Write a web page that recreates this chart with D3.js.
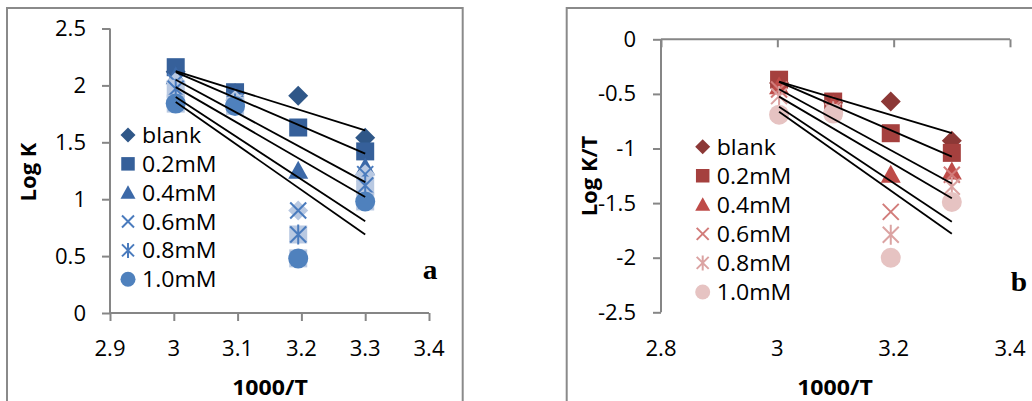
<!DOCTYPE html>
<html><head><meta charset="utf-8">
<script src="https://cdn.jsdelivr.net/npm/d3@7"></script>
<style>body{margin:0;background:#fff}svg{display:block}</style>
</head><body><div id="plot"></div>
<script>
var W = 1032, H = 401

// 1000/T  (T = 333, 323, 313, 303 K)
var xVals = [3.003, 3.096, 3.195, 3.300]
var seriesNames = ['blank', '0.2mM', '0.4mM', '0.6mM', '0.8mM', '1.0mM']

// panel a : Log K
var logK_blank = [2.12, 1.93, 1.91, 1.54]
var logK_02 = [2.16, 1.94, 1.63, 1.42]
var logK_04 = [2.08, 1.90, 1.25, 1.28]
var logK_06 = [2.03, 1.87, 0.90, 1.22]
var logK_08 = [1.97, 1.84, 0.69, 1.12]
var logK_10 = [1.84, 1.82, 0.48, 0.98]
var trendA_start = [2.125, 2.117, 2.05, 1.985, 1.897, 1.854]
var trendA_end = [1.605, 1.40, 1.15, 1.02, 0.807, 0.69]

// panel b : Log K/T
var logKT_blank = [-0.40, -0.58, -0.57, -0.93]
var logKT_02 = [-0.37, -0.57, -0.86, -1.04]
var logKT_04 = [-0.43, -0.60, -1.24, -1.21]
var logKT_06 = [-0.46, -0.63, -1.58, -1.24]
var logKT_08 = [-0.52, -0.66, -1.79, -1.35]
var logKT_10 = [-0.69, -0.68, -2.00, -1.49]
var trendB_start = [-0.388, -0.39, -0.458, -0.525, -0.617, -0.663]
var trendB_end = [-0.86, -1.075, -1.32, -1.456, -1.67, -1.78]

var ticksAx = [2.9, 3, 3.1, 3.2, 3.3, 3.4]
var ticksAy = [0, 0.5, 1, 1.5, 2, 2.5]
var ticksBx = [2.8, 3, 3.2, 3.4]
var ticksBy = [0, -0.5, -1, -1.5, -2, -2.5]

var logK = [logK_blank, logK_02, logK_04, logK_06, logK_08, logK_10]
var logKT = [logKT_blank, logKT_02, logKT_04, logKT_06, logKT_08, logKT_10]

// styles
var shapes = ['diamond', 'square', 'triangle', 'x', 'star', 'circle']
var colorsA = ['#2f5788', '#36609a', '#3c69a8', '#4a7bbd', '#4a7bbd', '#4f81bd']
var colorsB = ['#8c3836', '#a5403e', '#be4b48', '#d27c7a', '#dba3a2', '#e6c3c2']
var haloA = [null, null, null, 'diamond', 'square', 'square']
var haloColor = '#b9c9e2'
var axisColor = '#868686'
var font = '"Open Sans", sans-serif'
var sx = 1.05   // text is a little wide in the picture

var svg = d3.select('#plot').append('svg')
	.attr('width', W)
	.attr('height', H)

function text(g, x, y, s, size, anchor, weight, family){
	return g.append('text')
		.attr('transform', 'translate(' + x + ',' + y + ') scale(' + sx + ',1)')
		.attr('text-anchor', anchor || 'start')
		.attr('font-family', family || font)
		.attr('font-size', size)
		.attr('font-weight', weight || 'normal')
		.attr('fill', '#000')
		.text(s)
}

function marker(g, shape, cx, cy, s, color){
	var h = s / 2
	if (shape == 'diamond'){
		g.append('path').attr('d', 'M' + cx + ',' + (cy - h) + 'L' + (cx + h) + ',' + cy + 'L' + cx + ',' + (cy + h) + 'L' + (cx - h) + ',' + cy + 'Z').attr('fill', color)
	} else if (shape == 'square'){
		var q = h * 0.9
		g.append('rect').attr('x', cx - q).attr('y', cy - q).attr('width', 2 * q).attr('height', 2 * q).attr('fill', color)
	} else if (shape == 'triangle'){
		g.append('path').attr('d', 'M' + cx + ',' + (cy - h) + 'L' + (cx + h) + ',' + (cy + h * 0.8) + 'L' + (cx - h) + ',' + (cy + h * 0.8) + 'Z').attr('fill', color)
	} else if (shape == 'circle'){
		g.append('circle').attr('cx', cx).attr('cy', cy).attr('r', h).attr('fill', color)
	} else {
		var k = h * 0.8
		var d = 'M' + (cx - k) + ',' + (cy - k) + 'L' + (cx + k) + ',' + (cy + k) + 'M' + (cx + k) + ',' + (cy - k) + 'L' + (cx - k) + ',' + (cy + k)
		if (shape == 'star') d += 'M' + cx + ',' + (cy - h) + 'L' + cx + ',' + (cy + h)
		g.append('path').attr('d', d).attr('stroke', color).attr('stroke-width', 2).attr('fill', 'none')
	}
}

function panel(opt){
	var g = svg.append('g')
	// frame
	g.append('rect')
		.attr('x', opt.frame[0]).attr('y', opt.frame[1])
		.attr('width', opt.frame[2]).attr('height', 420)
		.attr('fill', '#fff').attr('stroke', '#8a8a8a').attr('stroke-width', 2)

	var x = d3.scaleLinear().domain(opt.xDomain).range(opt.xRange)
	var y = d3.scaleLinear().domain(opt.yDomain).range(opt.yRange)
	var xAxisY = y(opt.xCross)

	// axes
	var yAxis = d3.axisLeft(y).tickValues(opt.yTicks).tickSize(8).tickFormat('')
	g.append('g').attr('transform', 'translate(' + opt.xRange[0] + ',0)').call(yAxis)
	var xAxis = d3.axisBottom(x).tickValues(opt.xTicks).tickSize(8).tickFormat('')
	g.append('g').attr('transform', 'translate(0,' + xAxisY + ')').call(xAxis)
	g.selectAll('.domain').remove()
	g.selectAll('.tick line').attr('stroke', axisColor).attr('stroke-width', 2)
	g.append('line').attr('x1', opt.xRange[0]).attr('x2', opt.xRange[0])
		.attr('y1', opt.yRange[1]).attr('y2', opt.yRange[0])
		.attr('stroke', axisColor).attr('stroke-width', 2)
	g.append('line').attr('x1', opt.xRange[0]).attr('x2', opt.xRange[1])
		.attr('y1', xAxisY).attr('y2', xAxisY)
		.attr('stroke', axisColor).attr('stroke-width', 2)

	// tick labels
	opt.yTicks.forEach(function(v){
		text(g, opt.yLabelX, y(v) + 7.5, String(v), 21, 'end')
	})
	opt.xTicks.forEach(function(v){
		text(g, x(v), 356, String(v), 21, 'middle')
	})

	// titles
	text(g, opt.xTitleX, 395, '1000/T', 22, 'middle', 'bold')
	g.append('text')
		.attr('transform', 'translate(' + opt.yTitle[0] + ',' + opt.yTitle[1] + ') rotate(-90)')
		.attr('text-anchor', 'middle').attr('font-family', font)
		.attr('font-size', 22).attr('font-weight', 'bold').text(opt.yTitleText)

	// markers
	var pts = g.append('g')
	opt.data.forEach(function(vals, i){
		vals.forEach(function(v, j){
			if (opt.halo && opt.halo[i]) marker(pts, opt.halo[i], x(xVals[j]), y(v), 20, haloColor)
			marker(pts, shapes[i], x(xVals[j]), y(v), 20, opt.colors[i])
		})
	})

	// trend lines
	opt.tStart.forEach(function(v, i){
		g.append('line')
			.attr('x1', x(xVals[0])).attr('y1', y(v))
			.attr('x2', x(xVals[3])).attr('y2', y(opt.tEnd[i]))
			.attr('stroke', '#000').attr('stroke-width', 1.8)
	})

	// legend
	seriesNames.forEach(function(n, i){
		var cy = opt.legend[1] + i * opt.legend[2]
		marker(g, shapes[i], opt.legend[0], cy, 15, opt.colors[i])
		text(g, opt.legend[0] + 14, cy + 8, n, 22)
	})

	// panel letter
	text(g, opt.letter[0], opt.letter[1], opt.letter[2], 28, 'middle', 'bold', '"Liberation Serif", serif')
}

panel({
	frame: [7, 8, 455.7],
	xDomain: [2.9, 3.4], xRange: [110, 429],
	yDomain: [0, 2.5], yRange: [313, 28.5],
	xCross: 0,
	xTicks: ticksAx, yTicks: ticksAy,
	yLabelX: 86, xTitleX: 270,
	yTitle: [36, 172], yTitleText: 'Log K',
	data: logK, colors: colorsA, halo: haloA,
	tStart: trendA_start, tEnd: trendA_end,
	legend: [128, 135, 28.85],
	letter: [430, 279, 'a']
})

panel({
	frame: [566.7, 8, 500],
	xDomain: [2.8, 3.4], xRange: [661, 1010],
	yDomain: [-2.5, 0], yRange: [312.3, 39.3],
	xCross: 0,
	xTicks: ticksBx, yTicks: ticksBy,
	yLabelX: 636, xTitleX: 835,
	yTitle: [597, 176], yTitleText: 'Log K/T',
	data: logKT, colors: colorsB, halo: null,
	tStart: trendB_start, tEnd: trendB_end,
	legend: [702.7, 146.7, 29.05],
	letter: [1019, 291, 'b']
})
</script>
</body></html>
